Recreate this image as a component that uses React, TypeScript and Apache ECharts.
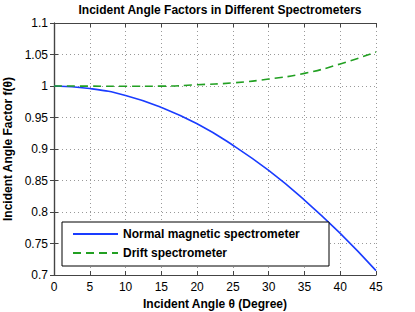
import React, { useEffect, useRef } from "react";
import * as echarts from "echarts";

const angles = [0, 5, 10, 15, 20, 25, 30, 35, 40, 45];
const normalMagnetic = [1.0, 0.996, 0.985, 0.966, 0.94, 0.906, 0.866, 0.819, 0.766, 0.707];
const drift = [1.0, 0.9998, 0.9996, 0.9998, 1.002, 1.005, 1.011, 1.02, 1.035, 1.054];
const seriesNames = ["Normal magnetic spectrometer", "Drift spectrometer"];
const titleText = "Incident Angle Factors in Different Spectrometers";
const xName = "Incident Angle θ (Degree)";
const yName = "Incident Angle Factor f(θ)";

const FONT = "Liberation Sans, Arial, Helvetica, sans-serif";
const AXIS_COLOR = "#444";

export default function App() {
  const ref = useRef<HTMLDivElement>(null);
  useEffect(() => {
    if (!ref.current) return;
    const chart = echarts.init(ref.current, undefined, { renderer: "svg" });
    const mk = (vals: number[]) => angles.map((a, i) => [a, vals[i]]);
    const tick = { show: true, inside: true, length: 4, lineStyle: { color: AXIS_COLOR } };
    const axisLine = { show: true, lineStyle: { color: AXIS_COLOR, width: 1.2 } };
    const split = { show: true, lineStyle: { color: "#999", type: [1, 3] as any, width: 1 } };
    chart.setOption({
      animation: false,
      backgroundColor: "#fff",
      textStyle: { fontFamily: FONT },
      title: {
        text: titleText,
        left: 215,
        textAlign: "center",
        top: -1,
        textStyle: { fontFamily: FONT, fontSize: 12, fontWeight: "bold", color: "#000" },
      },
      grid: { left: 54, right: 39, top: 23, bottom: 37, outerBoundsMode: "none", containLabel: false },
      xAxis: [
        {
          type: "value",
          min: 0,
          max: 45,
          interval: 5,
          name: xName,
          nameLocation: "middle",
          nameGap: 23,
          nameTextStyle: { fontFamily: FONT, fontSize: 12, fontWeight: "bold", color: "#000" },
          axisLine,
          axisTick: tick,
          axisLabel: { color: "#000", fontSize: 12, fontFamily: FONT, margin: 6 },
          splitLine: split,
        },
        {
          type: "value",
          position: "top",
          min: 0,
          max: 45,
          interval: 5,
          axisLine,
          axisTick: tick,
          axisLabel: { show: false },
          splitLine: { show: false },
        },
      ],
      yAxis: [
        {
          type: "value",
          min: 0.7,
          max: 1.1,
          interval: 0.05,
          name: yName,
          nameLocation: "middle",
          nameGap: 38,
          nameTextStyle: { fontFamily: FONT, fontSize: 12, fontWeight: "bold", color: "#000" },
          axisLine,
          axisTick: tick,
          axisLabel: {
            color: "#000",
            fontSize: 12,
            fontFamily: FONT,
            margin: 6,
            formatter: (v: number) => String(+v.toFixed(2)),
          },
          splitLine: split,
        },
        {
          type: "value",
          position: "right",
          min: 0.7,
          max: 1.1,
          interval: 0.05,
          axisLine,
          axisTick: tick,
          axisLabel: { show: false },
          splitLine: { show: false },
        },
      ],
      graphic: [
        {
          type: "rect",
          z: 10,
          shape: { x: 62, y: 222, width: 267, height: 44 },
          style: { fill: "#fff", stroke: "#000", lineWidth: 1 },
        },
      ],
      legend: {
        z: 20,
        orient: "vertical",
        left: 72,
        top: 228,
        padding: 0,
        itemWidth: 45,
        itemHeight: 14,
        itemGap: 7,
        itemStyle: { opacity: 0 },
        data: seriesNames,
        textStyle: { fontFamily: FONT, fontSize: 12, fontWeight: "bold", color: "#000" },
      },
      series: [
        {
          name: seriesNames[0],
          type: "line",
          data: mk(normalMagnetic),
          smooth: true,
          showSymbol: false,
          symbol: "none",
          lineStyle: { color: "#1a3cff", width: 1.6 },
          itemStyle: { color: "#1a3cff" },
        },
        {
          name: seriesNames[1],
          type: "line",
          data: mk(drift),
          smooth: true,
          showSymbol: false,
          symbol: "none",
          lineStyle: { color: "#22a022", width: 1.6, type: [8, 5] },
          itemStyle: { color: "#22a022" },
        },
      ],
    });
    return () => chart.dispose();
  }, []);
  return (
    <div
      ref={ref}
      style={{ position: "fixed", left: 0, top: 0, width: 415, height: 312 }}
    />
  );
}
